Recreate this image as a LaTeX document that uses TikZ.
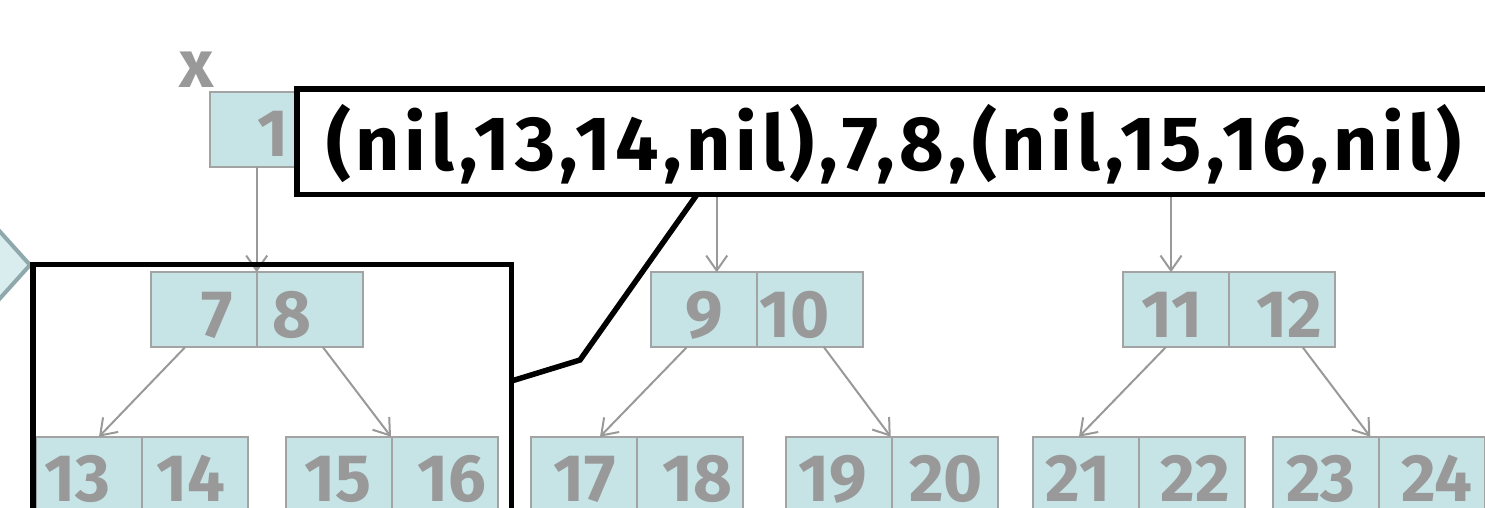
\documentclass[tikz,border=0pt]{standalone}
\usepackage{fontspec}
\setmainfont{Fira Sans}
\usetikzlibrary{arrows.meta}

\definecolor{cellfill}{HTML}{C6E4E6}
\definecolor{cellline}{HTML}{A3A3A3}
\definecolor{numgray}{HTML}{999999}
\definecolor{chevfill}{HTML}{D9ECEE}
\definecolor{chevline}{HTML}{8EA8AB}

% one key cell of a tree node
\tikzset{
  cell/.style={draw=cellline, line width=2pt, fill=cellfill,
    minimum width=106pt, minimum height=75pt, inner sep=0pt, outer sep=0pt,
    anchor=north west},
  num/.style={text=numgray, font=\fontsize{67}{67}\selectfont\bfseries,
    anchor=base, inner sep=0pt},
  link/.style={draw=numgray, line width=2pt,
    -{Straight Barb[length=15pt,width=21pt]}},
  frame/.style={draw=black, line width=5.5pt, outer sep=0pt, inner sep=0pt,
    anchor=north west},
}

% two-key node: name, left x, top y, key A, x of A, key B, x of B
\newcommand\keypair[7]{%
  \node[cell] (#1a) at (#2,#3) {};
  \node[cell] (#1b) at (#1a.north east) {};
  \node[num] (#1ta) at ({#5},{#3+65}) {#4};
  \node[num] (#1tb) at ({#7},{#3+65}) {#6};
}

\begin{document}
\begin{tikzpicture}[x=1pt,y=-1pt]
\useasboundingbox (0,0) rectangle (1485,508);
\clip (0,0) rectangle (1485,508);

% chevron at the left margin
\filldraw[fill=chevfill, draw=chevline, line width=4pt, line join=miter]
  (-60,165) -- (30,265) -- (-60,365) -- cycle;

% root
\node[cell] (root) at (210,92) {};
\node[num] (roott) at (273,157) {1};
\node[num] (xlabel) at (196.5,88) {x};
\coordinate (r2) at (716.7,167);
\coordinate (r3) at (1171,167);

% second level
\keypair{p78}{150.7}{272.3}{7}{217}{8}{292}
\keypair{p910}{650.7}{272.3}{9}{704}{10}{795}
\keypair{p1112}{1123.3}{272.3}{11}{1172}{12}{1289}

% third level
\keypair{p1314}{35.7}{436.7}{13}{77}{14}{191}
\keypair{p1516}{286}{436.7}{15}{338}{16}{452}
\keypair{p1718}{531}{436.7}{17}{585}{18}{697}
\keypair{p1920}{785.7}{436.7}{19}{833}{20}{946}
\keypair{p2122}{1033.3}{436.7}{21}{1078}{22}{1195}
\keypair{p2324}{1273.3}{436.7}{23}{1321}{24}{1437}

% child pointers
\draw[link] (root.south -| p78b.north west) -- (p78b.north west);
\draw[link] (r2) -- (r2 |- p910a.north);
\draw[link] (r3) -- (r3 |- p1112a.north);

\draw[link] ([xshift=34.3pt]p78a.south west) -- ([xshift=63.3pt]p1314a.north west);
\draw[link] ([xshift=66.3pt]p78b.south west) -- ([xshift=-1pt]p1516b.north west);
\draw[link] ([xshift=36pt]p910a.south west) -- ([xshift=69pt]p1718a.north west);
\draw[link] ([xshift=67.3pt]p910b.south west) -- ([xshift=-1pt]p1920b.north west);
\draw[link] ([xshift=42.4pt]p1112a.south west) -- ([xshift=45.7pt]p2122a.north west);
\draw[link] ([xshift=73.4pt]p1112b.south west) -- ([xshift=-9pt]p2324b.north west);

% highlighted subtree
\node[frame, minimum width=478.5pt, minimum height=300pt] (group) at (33,264.5) {};

% callout with its pointer
\node[frame, fill=white, minimum width=1220pt, minimum height=105.5pt] (callout) at (297,89) {};
\coordinate (ptrtop) at (697,194.5);
\coordinate (ptrbend) at (580,360);
\draw[line width=5.5pt, line join=miter] (ptrtop) -- (ptrbend) -- ([yshift=-116.5pt]group.north east);
\node[anchor=base west, inner sep=0pt,
  font=\fontsize{77}{77}\selectfont\bfseries\addfontfeature{LetterSpace=6}] (ctext)
  at (326,170) {(nil,13,14,nil),7,8,(nil,15,16,nil)};
\end{tikzpicture}
\end{document}
